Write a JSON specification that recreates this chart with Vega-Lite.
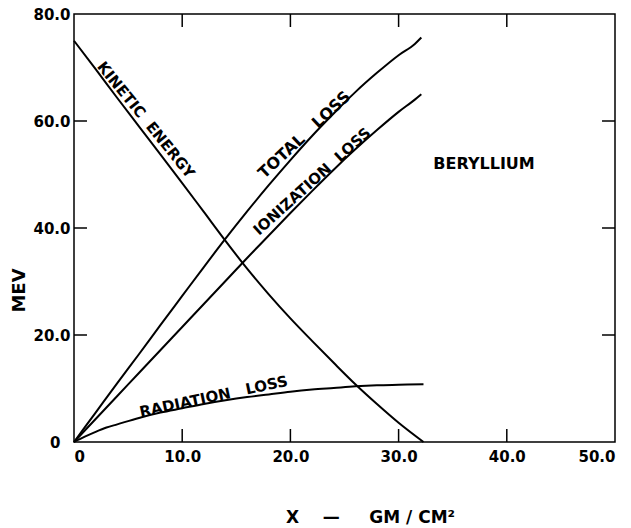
{
  "$schema": "https://vega.github.io/schema/vega-lite/v6.json",
  "width": 541,
  "height": 428,
  "autosize": {"type": "none"},
  "padding": {"left": 74, "top": 14, "right": 16, "bottom": 86},
  "background": "white",
  "config": {
    "view": {"stroke": "black", "strokeWidth": 1.5},
    "axis": {
      "labelFont": "DejaVu Sans", "labelFontWeight": "bold", "labelFontSize": 15, "labelColor": "black",
      "titleFont": "DejaVu Sans", "titleFontWeight": "bold", "titleFontSize": 17, "titleColor": "black",
      "grid": false, "domain": false, "ticks": false
    },
    "text": {"font": "DejaVu Sans", "fontWeight": "bold", "fontSize": 15, "color": "black"}
  },
  "datasets": {
    "curves": [
      {"x": 0, "mev": 75, "curve": "Kinetic energy"},
      {"x": 2, "mev": 69.7, "curve": "Kinetic energy"},
      {"x": 4, "mev": 64.3, "curve": "Kinetic energy"},
      {"x": 6, "mev": 59.0, "curve": "Kinetic energy"},
      {"x": 8, "mev": 53.7, "curve": "Kinetic energy"},
      {"x": 10, "mev": 48.4, "curve": "Kinetic energy"},
      {"x": 12, "mev": 43.0, "curve": "Kinetic energy"},
      {"x": 14, "mev": 37.6, "curve": "Kinetic energy"},
      {"x": 16, "mev": 32.4, "curve": "Kinetic energy"},
      {"x": 18, "mev": 27.6, "curve": "Kinetic energy"},
      {"x": 20, "mev": 23.1, "curve": "Kinetic energy"},
      {"x": 22, "mev": 18.9, "curve": "Kinetic energy"},
      {"x": 24, "mev": 14.8, "curve": "Kinetic energy"},
      {"x": 26, "mev": 10.8, "curve": "Kinetic energy"},
      {"x": 28, "mev": 7.1, "curve": "Kinetic energy"},
      {"x": 30, "mev": 3.6, "curve": "Kinetic energy"},
      {"x": 32.3, "mev": 0, "curve": "Kinetic energy"},
      {"x": 0, "mev": 0, "curve": "Total loss"},
      {"x": 2, "mev": 5.5, "curve": "Total loss"},
      {"x": 4, "mev": 11.0, "curve": "Total loss"},
      {"x": 6, "mev": 16.4, "curve": "Total loss"},
      {"x": 8, "mev": 21.9, "curve": "Total loss"},
      {"x": 10, "mev": 27.3, "curve": "Total loss"},
      {"x": 12, "mev": 32.7, "curve": "Total loss"},
      {"x": 14, "mev": 38.0, "curve": "Total loss"},
      {"x": 16, "mev": 43.1, "curve": "Total loss"},
      {"x": 18, "mev": 48.0, "curve": "Total loss"},
      {"x": 20, "mev": 52.7, "curve": "Total loss"},
      {"x": 22, "mev": 57.2, "curve": "Total loss"},
      {"x": 24, "mev": 61.4, "curve": "Total loss"},
      {"x": 26, "mev": 65.4, "curve": "Total loss"},
      {"x": 28, "mev": 69.0, "curve": "Total loss"},
      {"x": 30, "mev": 72.3, "curve": "Total loss"},
      {"x": 31.5, "mev": 74.4, "curve": "Total loss"},
      {"x": 32.1, "mev": 75.6, "curve": "Total loss"},
      {"x": 0, "mev": 0, "curve": "Ionization loss"},
      {"x": 2, "mev": 4.3, "curve": "Ionization loss"},
      {"x": 4, "mev": 8.6, "curve": "Ionization loss"},
      {"x": 6, "mev": 12.9, "curve": "Ionization loss"},
      {"x": 8, "mev": 17.2, "curve": "Ionization loss"},
      {"x": 10, "mev": 21.5, "curve": "Ionization loss"},
      {"x": 12, "mev": 25.8, "curve": "Ionization loss"},
      {"x": 14, "mev": 30.1, "curve": "Ionization loss"},
      {"x": 16, "mev": 34.4, "curve": "Ionization loss"},
      {"x": 18, "mev": 38.6, "curve": "Ionization loss"},
      {"x": 20, "mev": 42.8, "curve": "Ionization loss"},
      {"x": 22, "mev": 46.9, "curve": "Ionization loss"},
      {"x": 24, "mev": 50.9, "curve": "Ionization loss"},
      {"x": 26, "mev": 54.7, "curve": "Ionization loss"},
      {"x": 28, "mev": 58.3, "curve": "Ionization loss"},
      {"x": 30, "mev": 61.7, "curve": "Ionization loss"},
      {"x": 31.5, "mev": 64.0, "curve": "Ionization loss"},
      {"x": 32.1, "mev": 65.0, "curve": "Ionization loss"},
      {"x": 0, "mev": 0, "curve": "Radiation loss"},
      {"x": 1, "mev": 1.0, "curve": "Radiation loss"},
      {"x": 2, "mev": 1.9, "curve": "Radiation loss"},
      {"x": 3, "mev": 2.7, "curve": "Radiation loss"},
      {"x": 4, "mev": 3.3, "curve": "Radiation loss"},
      {"x": 6, "mev": 4.5, "curve": "Radiation loss"},
      {"x": 8, "mev": 5.5, "curve": "Radiation loss"},
      {"x": 10, "mev": 6.3, "curve": "Radiation loss"},
      {"x": 12, "mev": 7.1, "curve": "Radiation loss"},
      {"x": 14, "mev": 7.8, "curve": "Radiation loss"},
      {"x": 16, "mev": 8.4, "curve": "Radiation loss"},
      {"x": 18, "mev": 8.9, "curve": "Radiation loss"},
      {"x": 20, "mev": 9.4, "curve": "Radiation loss"},
      {"x": 22, "mev": 9.8, "curve": "Radiation loss"},
      {"x": 24, "mev": 10.1, "curve": "Radiation loss"},
      {"x": 26, "mev": 10.4, "curve": "Radiation loss"},
      {"x": 28, "mev": 10.6, "curve": "Radiation loss"},
      {"x": 30, "mev": 10.7, "curve": "Radiation loss"},
      {"x": 32.3, "mev": 10.8, "curve": "Radiation loss"}
    ],
    "ticks": [
      {"tick": "b10", "x": 10, "mev": 0}, {"tick": "b10", "x": 10, "mev": 2.43},
      {"tick": "b20", "x": 20, "mev": 0}, {"tick": "b20", "x": 20, "mev": 2.43},
      {"tick": "b30", "x": 30, "mev": 0}, {"tick": "b30", "x": 30, "mev": 2.43},
      {"tick": "b40", "x": 40, "mev": 0}, {"tick": "b40", "x": 40, "mev": 2.43},
      {"tick": "t10", "x": 10, "mev": 80}, {"tick": "t10", "x": 10, "mev": 77.57},
      {"tick": "t20", "x": 20, "mev": 80}, {"tick": "t20", "x": 20, "mev": 77.57},
      {"tick": "t30", "x": 30, "mev": 80}, {"tick": "t30", "x": 30, "mev": 77.57},
      {"tick": "t40", "x": 40, "mev": 80}, {"tick": "t40", "x": 40, "mev": 77.57},
      {"tick": "l20", "x": 0, "mev": 20}, {"tick": "l20", "x": 1.2, "mev": 20},
      {"tick": "l40", "x": 0, "mev": 40}, {"tick": "l40", "x": 1.2, "mev": 40},
      {"tick": "l60", "x": 0, "mev": 60}, {"tick": "l60", "x": 1.2, "mev": 60},
      {"tick": "r20", "x": 50, "mev": 20}, {"tick": "r20", "x": 48.8, "mev": 20},
      {"tick": "r40", "x": 50, "mev": 40}, {"tick": "r40", "x": 48.8, "mev": 40},
      {"tick": "r60", "x": 50, "mev": 60}, {"tick": "r60", "x": 48.8, "mev": 60}
    ]
  },
  "resolve": {"axis": {"x": "independent", "y": "independent"}},
  "layer": [
    {
      "data": {"name": "curves"},
      "mark": {"type": "line", "color": "black", "strokeWidth": 2, "interpolate": "monotone"},
      "encoding": {
        "x": {
          "field": "x", "type": "quantitative",
          "scale": {"domain": [0, 50], "nice": false, "zero": false},
          "axis": {
            "orient": "bottom", "tickCount": 5, "labelPadding": 7,
            "labelExpr": "datum.value == 0 ? '0' : format(datum.value, '.1f')",
            "title": "X\u00a0\u00a0\u00a0\u00a0—\u00a0\u00a0\u00a0\u00a0\u00a0GM / CM²", "titleX": 296, "titleY": 75, "titleAlign": "center", "titleBaseline": "middle"
          }
        },
        "y": {
          "field": "mev", "type": "quantitative",
          "scale": {"domain": [0, 80], "nice": false, "zero": false},
          "axis": {
            "orient": "left", "tickCount": 4,
            "labelPadding": {"condition": {"test": "datum.value == 0", "value": 14}, "value": 4},
            "labelExpr": "datum.value == 0 ? '0' : format(datum.value, '.1f')",
            "title": "MEV", "titleFontSize": 18, "titleX": -55, "titleY": 276, "titleAlign": "center", "titleBaseline": "middle", "titleAngle": -90
          }
        },
        "detail": {"field": "curve", "type": "nominal"}
      }
    },
    {
      "data": {"name": "ticks"},
      "mark": {"type": "line", "color": "black", "strokeWidth": 1.5},
      "encoding": {
        "x": {"field": "x", "type": "quantitative", "axis": null},
        "y": {"field": "mev", "type": "quantitative", "axis": null},
        "detail": {"field": "tick", "type": "nominal"}
      }
    },
    {
      "data": {"values": [{"x": 6.65, "mev": 60.2, "label": "KINETIC\u00a0\u00a0ENERGY"}]},
      "mark": {"type": "text", "angle": 51, "align": "center", "baseline": "middle"},
      "encoding": {
        "x": {"field": "x", "type": "quantitative", "axis": null},
        "y": {"field": "mev", "type": "quantitative", "axis": null},
        "text": {"field": "label"}
      }
    },
    {
      "data": {"values": [{"x": 21.3, "mev": 57.4, "label": "TOTAL\u00a0\u00a0\u00a0LOSS"}]},
      "mark": {"type": "text", "angle": -43, "align": "center", "baseline": "middle", "fontSize": 16},
      "encoding": {
        "x": {"field": "x", "type": "quantitative", "axis": null},
        "y": {"field": "mev", "type": "quantitative", "axis": null},
        "text": {"field": "label"}
      }
    },
    {
      "data": {"values": [{"x": 22.0, "mev": 48.7, "label": "IONIZATION\u00a0\u00a0LOSS"}]},
      "mark": {"type": "text", "angle": -42, "align": "center", "baseline": "middle"},
      "encoding": {
        "x": {"field": "x", "type": "quantitative", "axis": null},
        "y": {"field": "mev", "type": "quantitative", "axis": null},
        "text": {"field": "label"}
      }
    },
    {
      "data": {"values": [{"x": 12.9, "mev": 8.5, "label": "RADIATION\u00a0\u00a0\u00a0LOSS"}]},
      "mark": {"type": "text", "angle": -12, "align": "center", "baseline": "middle"},
      "encoding": {
        "x": {"field": "x", "type": "quantitative", "axis": null},
        "y": {"field": "mev", "type": "quantitative", "axis": null},
        "text": {"field": "label"}
      }
    },
    {
      "data": {"values": [{"x": 37.9, "mev": 52.0, "label": "BERYLLIUM"}]},
      "mark": {"type": "text", "align": "center", "baseline": "middle", "fontSize": 16},
      "encoding": {
        "x": {"field": "x", "type": "quantitative", "axis": null},
        "y": {"field": "mev", "type": "quantitative", "axis": null},
        "text": {"field": "label"}
      }
    }
  ]
}
